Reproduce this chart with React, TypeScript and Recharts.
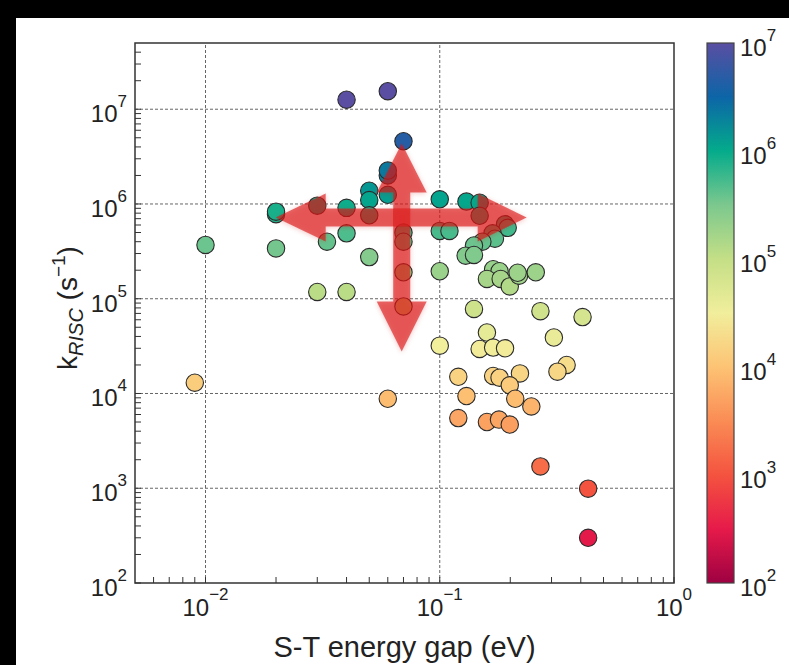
import React from 'react';
import { ScatterChart, Scatter, XAxis, YAxis, ReferenceLine, ReferenceArea, ReferenceDot } from 'recharts';

// S-T energy gap (eV) and k_RISC (s^-1)
const gapEv = [
  0.04, 0.06, 0.07, 0.06, 0.06, 0.05, 0.05, 0.06, 0.02, 0.02,
  0.03, 0.04, 0.05, 0.01, 0.02, 0.033, 0.04, 0.05, 0.07, 0.07,
  0.07, 0.07, 0.03, 0.04, 0.1, 0.1, 0.11, 0.1, 0.13, 0.148,
  0.148, 0.19, 0.195, 0.168, 0.172, 0.152, 0.14, 0.129, 0.14, 0.169,
  0.18, 0.159, 0.182, 0.199, 0.218, 0.215, 0.257, 0.14, 0.269, 0.407,
  0.159, 0.1, 0.148, 0.169, 0.19, 0.307, 0.348, 0.318, 0.12, 0.169,
  0.18, 0.22, 0.199, 0.13, 0.21, 0.246, 0.12, 0.159, 0.179, 0.199,
  0.269, 0.43, 0.43, 0.009, 0.06,
];
const kRisc = [
  1.26e7, 1.55e7, 4.6e6, 2.0e6, 2.25e6, 1.38e6, 1.1e6, 1.25e6, 7.8e5, 8.3e5,
  9.6e5, 9.1e5, 7.6e5, 3.7e5, 3.4e5, 4.0e5, 4.9e5, 2.75e5, 5.0e5, 4.0e5,
  1.9e5, 8.3e4, 1.18e5, 1.18e5, 1.12e6, 5.2e5, 5.2e5, 1.95e5, 1.06e6, 1.03e6,
  7.5e5, 6.1e5, 5.6e5, 4.9e5, 4.3e5, 4.0e5, 3.65e5, 2.85e5, 2.9e5, 2.05e5,
  1.95e5, 1.62e5, 1.62e5, 1.35e5, 1.75e5, 1.88e5, 1.9e5, 7.8e4, 7.4e4, 6.4e4,
  4.4e4, 3.2e4, 2.95e4, 3.05e4, 3.0e4, 3.9e4, 2.0e4, 1.7e4, 1.5e4, 1.53e4,
  1.47e4, 1.63e4, 1.22e4, 9.4e3, 8.8e3, 7.3e3, 5.5e3, 5.0e3, 5.3e3, 4.7e3,
  1.7e3, 990, 300, 1.3e4, 8.8e3,
];

const xDomain = [0.005, 1];
const yDomain = [1e2, 5e7];
const xMajorTicks = [0.01, 0.1, 1];
const yMajorTicks = [1e2, 1e3, 1e4, 1e5, 1e6, 1e7];
const xMinorTicks = [
  0.006, 0.007, 0.008, 0.009,
  0.02, 0.03, 0.04, 0.05, 0.06, 0.07, 0.08, 0.09,
  0.2, 0.3, 0.4, 0.5, 0.6, 0.7, 0.8, 0.9,
];
const yMinorTicks = [
  200, 300, 400, 500, 600, 700, 800, 900,
  2e3, 3e3, 4e3, 5e3, 6e3, 7e3, 8e3, 9e3,
  2e4, 3e4, 4e4, 5e4, 6e4, 7e4, 8e4, 9e4,
  2e5, 3e5, 4e5, 5e5, 6e5, 7e5, 8e5, 9e5,
  2e6, 3e6, 4e6, 5e6, 6e6, 7e6, 8e6, 9e6,
  2e7, 3e7, 4e7,
];
const colorbarTicks = [1e2, 1e3, 1e4, 1e5, 1e6, 1e7];
// colormap stops: [log10(k), colour]
const colorStops: [number, string][] = [
  [2.0, '#9e0142'],
  [2.5, '#e61a4a'],
  [3.0, '#f4533f'],
  [3.5, '#fa8c55'],
  [4.0, '#fdc374'],
  [4.5, '#f1ee9c'],
  [5.0, '#c4df86'],
  [5.5, '#7cc88e'],
  [6.0, '#04ab8b'],
  [6.5, '#0c65a7'],
  [7.0, '#5a4ea2'],
];

const points = gapEv.map((x, i) => ({ x, y: kRisc[i] }));

const FONT = '"Liberation Sans", Arial, Helvetica, sans-serif';
const INK = '#222';

function hexToRgb(h: string) {
  const n = parseInt(h.slice(1), 16);
  return [(n >> 16) & 255, (n >> 8) & 255, n & 255];
}

function colorFor(v: number) {
  const t = Math.min(7, Math.max(2, Math.log10(v)));
  for (let i = 0; i < colorStops.length - 1; i++) {
    const [a, ca] = colorStops[i];
    const [b, cb] = colorStops[i + 1];
    if (t >= a && t <= b) {
      const f = (t - a) / (b - a);
      const p = hexToRgb(ca);
      const q = hexToRgb(cb);
      const c = p.map((u, k) => Math.round(u + (q[k] - u) * f));
      return `rgb(${c[0]},${c[1]},${c[2]})`;
    }
  }
  return colorStops[colorStops.length - 1][1];
}

const isDecade = (v: number) => Math.abs(Math.log10(v) - Math.round(Math.log10(v))) < 1e-6;
const expText = (v: number) => {
  const e = Math.round(Math.log10(v));
  return e < 0 ? `\u2212${-e}` : `${e}`;
};

const TICK = 6;

// mirrored axes: tick props sit TICK px inside the plot
const XTick = (props: any) => {
  const { x, y, payload } = props;
  if (!isDecade(payload.value)) return null;
  const axisY = y + TICK;
  return (
    <text x={x} y={axisY + 33} textAnchor="middle" fontSize={24} fill={INK} fontFamily={FONT}>
      10<tspan dy={-16} fontSize={17}>{expText(payload.value)}</tspan>
    </text>
  );
};

const YTick = (props: any) => {
  const { x, y, payload } = props;
  if (!isDecade(payload.value)) return null;
  const axisX = x - TICK;
  return (
    <text x={axisX - 8} y={y + 13} textAnchor="end" fontSize={24} fill={INK} fontFamily={FONT}>
      10<tspan dy={-15} fontSize={17}>{expText(payload.value)}</tspan>
    </text>
  );
};

const ColorbarTick = (props: any) => {
  const { x, y, payload } = props;
  return (
    <text x={x + 6} y={y + 13} textAnchor="start" fontSize={24} fill={INK} fontFamily={FONT}>
      10<tspan dy={-15} fontSize={17}>{expText(payload.value)}</tspan>
    </text>
  );
};

const XTitle = (props: any) => {
  const vb = props.viewBox;
  return (
    <text x={vb.x + vb.width / 2} y={vb.y + vb.height + 74} textAnchor="middle" fontSize={29} fill={INK} fontFamily={FONT}>
      S-T energy gap (eV)
    </text>
  );
};

const YTitle = (props: any) => {
  const vb = props.viewBox;
  const cx = vb.x - 58;
  const cy = vb.y + vb.height / 2 - 5;
  return (
    <text x={cx} y={cy} transform={`rotate(-90, ${cx}, ${cy})`} textAnchor="middle" fontSize={28} fill={INK} fontFamily={FONT}>
      k<tspan fontSize={20} fontStyle="italic" dy={6}>RISC</tspan>
      <tspan dy={-6}> (s</tspan>
      <tspan fontSize={19} dy={-12}>{'\u22121'}</tspan>
      <tspan dy={12}>)</tspan>
    </text>
  );
};

// double-headed arrows overlaid on the data, offsets in px from the crossing point
const arrowFill = 'rgba(220, 20, 20, 0.63)';
const hArrow = [[-126, 0], [-76, -24], [-76, -9], [76, -9], [76, -24], [125, 0], [76, 24], [76, 9], [-76, 9], [-76, 24]];
const vArrow = [[0, -74], [25, -25], [8.5, -25], [8.5, 84], [25, 84], [0, 134], [-25, 84], [-8.5, 84], [-8.5, -25], [-25, -25]];

const Arrows = (props: any) => {
  const { cx, cy } = props;
  const pts = (arr: number[][]) => arr.map(([dx, dy]) => `${cx + dx},${cy + dy}`).join(' ');
  return (
    <g>
      <defs>
        <filter id="arrowGlow" x="-20%" y="-20%" width="140%" height="140%">
          <feDropShadow dx="0" dy="1" stdDeviation="2.5" floodColor="#c00" floodOpacity="0.35" />
        </filter>
      </defs>
      <g filter="url(#arrowGlow)">
        <polygon points={pts(hArrow)} fill={arrowFill} />
        <polygon points={pts(vArrow)} fill={arrowFill} />
      </g>
    </g>
  );
};

const Dot = (props: any) => (
  <circle cx={props.cx} cy={props.cy} r={8.7} fill={colorFor(props.payload.y)} stroke="#2b2b2b" strokeWidth={1.1} />
);

const ColorbarRect = (props: any) => {
  const { x, y, width, height } = props;
  const stops = [...colorStops].sort((a, b) => b[0] - a[0]);
  return (
    <g>
      <defs>
        <linearGradient id="cbGrad" x1="0" y1="0" x2="0" y2="1">
          {stops.map(([v, c]) => (
            <stop key={v} offset={`${((7 - v) / 5) * 100}%`} stopColor={c} />
          ))}
        </linearGradient>
      </defs>
      <rect x={x} y={y} width={width} height={height} fill="url(#cbGrad)" stroke="#444" strokeWidth={1.2} />
    </g>
  );
};

export default function App() {
  return (
    <div style={{ position: 'fixed', left: 0, top: 0, width: 789, height: 665, background: '#000', overflow: 'hidden' }}>
      <div style={{ position: 'absolute', left: 16, top: 18, width: 773, height: 647, background: '#fff' }} />
      <div style={{ position: 'absolute', left: 0, top: 0 }}>
        <ScatterChart width={789} height={665} margin={{ top: 43, right: 115, bottom: 82, left: 135 }}>
          <XAxis
            type="number"
            dataKey="x"
            scale="log"
            domain={xDomain}
            allowDataOverflow
            ticks={[...xMajorTicks, ...xMinorTicks].sort((a, b) => a - b)}
            interval={0}
            mirror
            tickSize={TICK}
            tickMargin={0}
            tick={XTick}
            axisLine={false}
            stroke="#333"
            height={40}
            label={XTitle}
          />
          <YAxis
            type="number"
            dataKey="y"
            scale="log"
            domain={yDomain}
            allowDataOverflow
            ticks={[...yMajorTicks, ...yMinorTicks].sort((a, b) => a - b)}
            interval={0}
            mirror
            tickSize={TICK}
            tickMargin={0}
            tick={YTick}
            axisLine={false}
            stroke="#333"
            width={70}
            label={YTitle}
          />
          {xMajorTicks.filter((v) => v < 1).map((v) => (
            <ReferenceLine key={`gx${v}`} x={v} stroke="#666" strokeDasharray="3 2" strokeWidth={1} />
          ))}
          {yMajorTicks.filter((v) => v > 1e2).map((v) => (
            <ReferenceLine key={`gy${v}`} y={v} stroke="#666" strokeDasharray="3 2" strokeWidth={1} />
          ))}
          <Scatter data={points} shape={Dot} isAnimationActive={false} />
          <ReferenceDot x={0.0688} y={7.2e5} r={0} shape={Arrows} ifOverflow="visible" />
          <ReferenceArea x1={xDomain[0]} x2={xDomain[1]} y1={yDomain[0]} y2={yDomain[1]} fill="none" fillOpacity={0} stroke="#333" strokeWidth={1.5} />
        </ScatterChart>
      </div>
      <div style={{ position: 'absolute', left: 0, top: 0 }}>
        <ScatterChart width={789} height={665} margin={{ top: 43, right: 5, bottom: 82, left: 707 }}>
          <XAxis type="number" dataKey="x" domain={[0, 1]} allowDataOverflow hide />
          <YAxis
            type="number"
            dataKey="y"
            orientation="right"
            scale="log"
            domain={[1e2, 1e7]}
            allowDataOverflow
            ticks={colorbarTicks}
            interval={0}
            tickSize={0}
            tickMargin={0}
            tickLine={false}
            axisLine={false}
            tick={ColorbarTick}
            width={50}
          />
          <ReferenceArea x1={0} x2={1} y1={1e2} y2={1e7} shape={ColorbarRect} />
        </ScatterChart>
      </div>
    </div>
  );
}
